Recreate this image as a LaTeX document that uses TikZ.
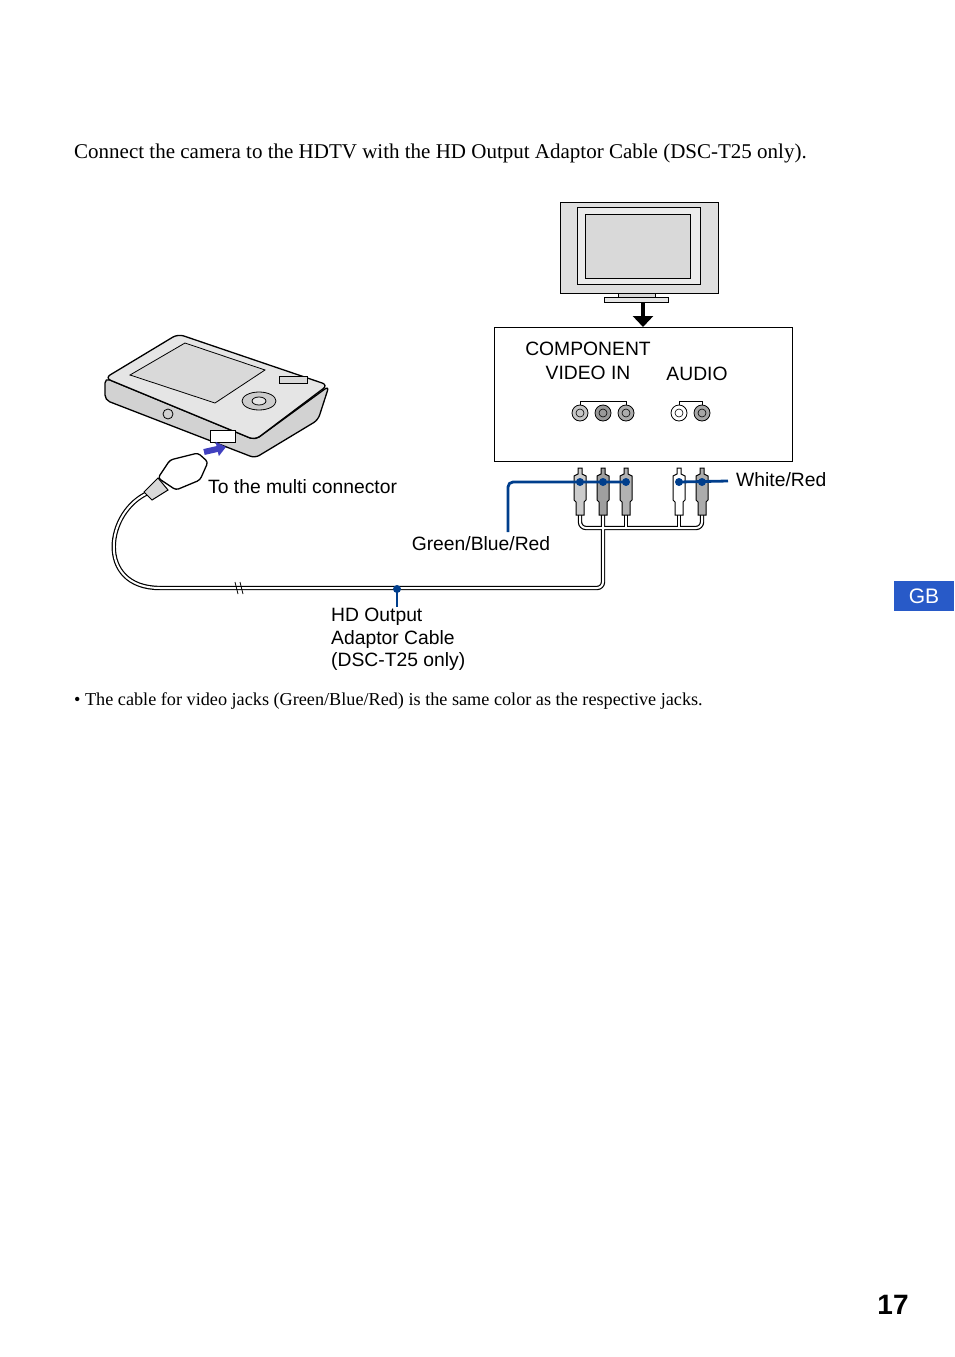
\documentclass[tikz,border=0pt]{standalone}
\usepackage{fontspec}
\setmainfont{Liberation Serif}
\setsansfont{Liberation Sans}
\usetikzlibrary{arrows.meta}
\definecolor{calloutBlue}{RGB}{0,62,140}
\definecolor{tabBlue}{RGB}{40,90,200}
\newcommand{\rca}[3]{% name, x, fill
  \coordinate (#1) at (#2,482);
  \draw[fill=#3,line width=1] (#2-2,468) -- (#2+2,468) -- (#2+2,474) -- (#2+6,476) -- (#2+6,500) -- (#2+4,502) -- (#2+4,515) -- (#2-4,515) -- (#2-4,502) -- (#2-6,500) -- (#2-6,476) -- (#2-2,474) -- cycle;}
\newcommand{\jack}[2]{% x, fill
  \draw[fill=#2,line width=0.8] (#1,413) circle (8);
  \draw[line width=0.6] (#1,413) circle (4);}
\tikzset{every picture/.style={x=1pt,y=-1pt}}
\begin{document}
\begin{tikzpicture}[
    lbl/.style={font=\sffamily\fontsize{19.3}{22.5}\selectfont,inner sep=0pt},
    cable/.style={line width=4.4,rounded corners=6},
    cablein/.style={line width=2,white,rounded corners=6},
    callout/.style={calloutBlue,line width=2.8,rounded corners=5},
  ]
  \useasboundingbox (0,0) rectangle (954,1357);
  % heading and note
  \node[anchor=west,font=\fontsize{21}{24}\selectfont,inner sep=0pt] (head) at (74,153)
    {Connect the camera to the HDTV with the HD Output Adaptor Cable (DSC-T25 only).};
  \node[anchor=west,font=\fontsize{18.2}{21}\selectfont,inner sep=0pt] (note) at (74,701)
    {\textbullet\ The cable for video jacks (Green/Blue/Red) is the same color as the respective jacks.};
  % TV
  \draw[fill=gray!25,line width=1] (560,202) rectangle (718,293);
  \draw[fill=gray!15,line width=0.8] (577,207) rectangle (700,284);
  \draw[fill=gray!30,line width=0.8] (585,214) rectangle (690,278);
  \draw[fill=gray!30,line width=1] (618,293) rectangle (655,297);
  \draw[fill=gray!20,line width=1] (604,297) rectangle (668,302);
  \coordinate (tvbot) at (643,303);
  % panel
  \node[draw,line width=1,minimum width=298,minimum height=134,anchor=north west,inner sep=0] (panel) at (494,327) {};
  \draw[-{Triangle[width=20,length=11]},line width=3.5] (tvbot) -- (panel.north -| tvbot);
  \node[lbl] (comp) at (588,349) {COMPONENT};
  \node[lbl] (vin) at (588,373) {VIDEO IN};
  \node[lbl] (aud) at (697,374) {AUDIO};
  \draw[line width=0.8] (580,405) -- (580,401) -- (626,401) -- (626,405);
  \draw[line width=0.8] (679,405) -- (679,401) -- (702,401) -- (702,405);
  \jack{580}{gray!45}\jack{603}{gray!80}\jack{626}{gray!65}
  \jack{679}{white}\jack{702}{gray!70}
  % cable
  \foreach \s in {cable,cablein}{
    \draw[\s] (580,515) -- (580,528) -- (702,528) -- (702,515);
    \draw[\s] (626,515) -- (626,528);
    \draw[\s] (679,515) -- (679,528);
    \draw[\s] (603,515) -- (603,588) -- (160,588);
    \draw[\s,rounded corners=0] (160,588) .. controls (95,588) and (105,510) .. (150,492);}
  \draw[line width=0.8] (235,582) -- (238,594) (240,582) -- (243,594);
  \rca{g}{580}{gray!40}\rca{b}{603}{gray!75}\rca{r}{626}{gray!60}
  \rca{w}{679}{white}\rca{rr}{702}{gray!65}
  % camera
  \draw[fill=gray!35,line width=1.3,rounded corners=5] (105,378) -- (105,400) -- (255,458) -- (318,420) -- (329,386) -- (255,440) -- cycle;
  \draw[fill=gray!20,line width=1.3,rounded corners=6] (105,378) -- (178,334) -- (328,385) -- (255,440) -- cycle;
  \draw[fill=gray!30,line width=0.8] (130,375) -- (185,343) -- (265,370) -- (215,403) -- cycle;
  \draw[fill=gray!40,line width=0.8] (259,401) circle (17 and 9);
  \draw[fill=gray!20,line width=0.8] (259,401) circle (7 and 4);
  \draw[fill=gray!30,line width=0.8] (279,376) rectangle (307,383);
  \draw[line width=0.8] (168,414) circle (5);
  \draw[fill=white,line width=0.8] (210,430) rectangle (235,442);
  \draw[-{Triangle[width=14,length=9]},line width=6,blue!50!gray] (204,452) -- (226,447);
  \coordinate (cam) at (235,436);
  % connector plug
  \draw[fill=white,line width=1.3,rounded corners=3] (158,478) -- (170,460) -- (198,453) -- (208,462) -- (200,480) -- (176,490) -- cycle;
  \draw[fill=gray!30,line width=1] (144,492) -- (158,478) -- (168,490) -- (152,500) -- cycle;
  % callouts
  \node[lbl,anchor=west] (multi) at (208,487) {To the multi connector};
  \node[lbl,anchor=north] (gbr) at (481,536) {Green/Blue/Red};
  \node[lbl,anchor=west] (wr) at (736,480) {White/Red};
  \node[lbl,anchor=north west,align=left] (hdc) at (331,608) {HD Output\\Adaptor Cable\\(DSC-T25 only)};
  \draw[callout] (508,532) -- (508,482) -- (r);
  \draw[callout] (w) -- (728,481);
  \foreach \p in {g,b,r,w,rr} \fill[calloutBlue] (\p) circle (4);
  \coordinate (hdcdot) at (397,589);
  \fill[calloutBlue] (hdcdot) circle (4);
  \draw[callout] (hdcdot) -- (397,607);
  % page tab and number
  \node[fill=tabBlue,text=white,minimum width=60,minimum height=30,inner sep=0,font=\sffamily\fontsize{21}{24}\selectfont] (gb) at (924,596) {GB};
  \node[font=\sffamily\bfseries\fontsize{28}{30}\selectfont] (pg) at (893,1305) {17};
\end{tikzpicture}
\end{document}
